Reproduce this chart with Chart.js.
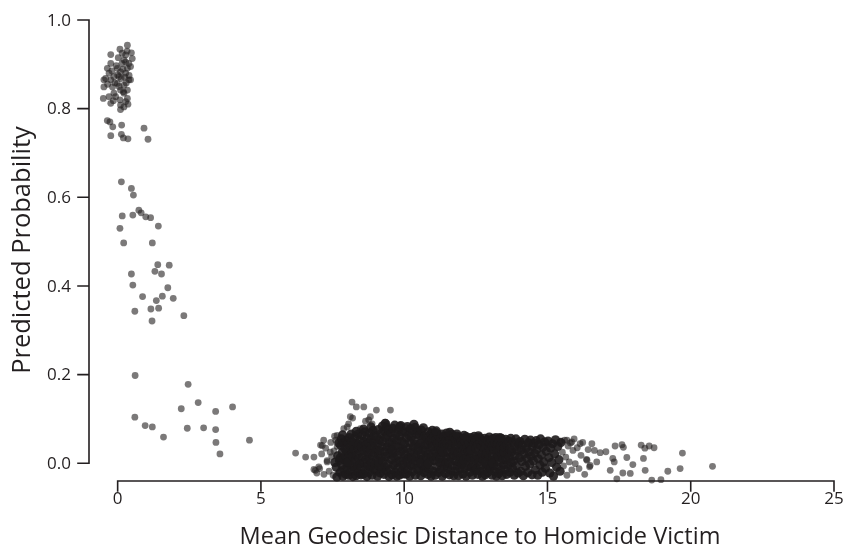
<!DOCTYPE html>
<html>
<head>
<meta charset="utf-8">
<script src="https://cdn.jsdelivr.net/npm/chart.js@4"></script>
<style>
  html, body { margin: 0; padding: 0; background: #fff; }
  canvas { display: block; }
</style>
</head>
<body>
<canvas id="scatter" width="846" height="551"></canvas>
<script>
// tick labels
const xTicks = [0, 5, 10, 15, 20, 25];
const yTicks = [0, 0.2, 0.4, 0.6, 0.8, 1.0];
const yTickLabels = ["0.0", "0.2", "0.4", "0.6", "0.8", "1.0"];
const xTitle = "Mean Geodesic Distance to Homicide Victim";
const yTitle = "Predicted Probability";

// points near zero distance, high probability
const nearVictim = [
  [0.34,0.943],[0.08,0.934],[-0.24,0.922],[0.16,0.925],[0.48,0.926],[0.28,0.921],[0.51,0.913],[0.22,0.91],
  [0.39,0.902],[-0.24,0.902],[-0.36,0.891],[-0.01,0.891],[0.34,0.891],[-0.3,0.88],[-0.13,0.872],[0.1,0.883],
  [0.28,0.88],[-0.42,0.868],[0.05,0.872],[0.39,0.865],[0.45,0.865],[-0.48,0.865],[-0.24,0.865],[-0.01,0.857],
  [0.22,0.853],[-0.48,0.849],[-0.18,0.849],[0.1,0.842],[0.34,0.842],[-0.13,0.835],[0.22,0.835],[-0.3,0.827],
  [-0.5,0.823],[-0.07,0.827],[0.34,0.823],[-0.24,0.812],[0.1,0.808],[0.28,0.816],[0.1,0.798],[0.22,0.804],
  [0.0,0.876],[0.12,0.868],[0.25,0.871],[-0.1,0.858],[0.05,0.85],[0.3,0.858],[0.18,0.889],[-0.05,0.897],
  [0.4,0.875],[0.15,0.902],[0.02,0.915],[-0.2,0.885],[0.28,0.905],[0.33,0.93],[0.2,0.838],[-0.15,0.818],
  [0.36,0.81],[0.08,0.82],[-0.35,0.855],[0.45,0.895],
  [-0.36,0.773],[-0.27,0.77],[-0.17,0.759],[0.14,0.763],[0.92,0.756],[-0.24,0.739],[0.13,0.742],[0.2,0.734],
  [0.36,0.732],[1.06,0.731]
];

// scattered points at short distances
const shortRange = [
  [0.13,0.635],[0.48,0.62],[0.55,0.605],[0.74,0.571],[0.82,0.565],[0.16,0.558],[0.53,0.56],[0.98,0.556],
  [1.15,0.554],[1.42,0.535],[0.08,0.53],[0.21,0.497],[1.21,0.497],[1.4,0.448],[1.8,0.447],[0.48,0.427],
  [1.3,0.433],[1.53,0.427],[0.53,0.402],[1.75,0.396],[0.87,0.376],[1.56,0.377],[1.35,0.367],[1.94,0.372],
  [0.6,0.343],[1.16,0.348],[1.43,0.35],[1.2,0.321],[2.31,0.333],[0.61,0.198],[2.46,0.178],[2.81,0.137],
  [2.22,0.123],[4.01,0.127],[3.42,0.117],[0.6,0.104],[0.96,0.085],[1.21,0.082],[2.43,0.079],[3.0,0.08],
  [3.42,0.076],[1.6,0.059],[3.43,0.047],[4.6,0.052],[3.57,0.021]
];

// loose points around the main cluster
const clusterEdge = [
  [6.21,0.023],[6.56,0.014],[6.85,0.014],[6.85,-0.014],[6.95,-0.022],[8.18,0.138],[8.33,0.127],[8.59,0.127],
  [9.03,0.12],[9.52,0.12],[8.12,0.105],[8.82,0.105],[8.2,0.102],[8.76,0.098],[8.65,0.095],[8.88,0.089],
  [8.06,0.089],[7.89,0.078],[8.01,0.082],[8.47,0.078],[9.34,0.093],[9.4,0.089],[9.87,0.086],[10.04,0.082],
  [10.62,0.067],[11.15,0.063],[7.66,0.063],[7.19,0.052],[7.14,0.04],[7.08,0.041],[7.02,-0.008],[6.9,-0.016],
  [7.31,0.003],[7.42,0.025],[11.84,0.053],[12.77,0.05],[13.46,0.048],[13.94,0.044],[14.4,0.048],[14.98,0.044],
  [15.45,0.048],[15.68,0.052],[15.85,0.048],[16.14,0.044],
  [7.05,-0.012],[7.12,0.021],[7.2,-0.025],[7.26,0.034],[7.31,0.006],[7.38,-0.018],[7.44,0.047],[7.47,0.015],
  [7.52,-0.027],[7.55,0.028],[7.61,0.052],[7.66,0.038],[7.7,-0.022],[7.57,0.061],
  [15.52,0.025],[15.56,-0.006],[15.6,0.052],[15.64,0.014],[15.68,-0.027],[15.72,0.039],[15.76,0.003],[15.8,0.046],
  [15.85,-0.015],[15.89,0.029],[15.93,0.055],[15.97,-0.001],
  [16.04,0.035],[16.1,-0.012],[16.17,0.018],[16.23,0.047],[16.3,-0.025],[16.36,0.009],[16.42,0.031],[16.47,-0.008]
];

// dense cluster at mid distances
const clusterCore = [
  [7.58,0.002],[7.63,-0.009],[7.68,0.017],[7.72,0.046],[7.74,0.006],[7.65,-0.031],
  [7.76,0.012],[7.77,-0.02],[7.79,0.04],[7.81,0.055],[7.82,-0.004],[7.84,0.025],[7.86,-0.029],[7.88,0.047],
  [7.89,0.009],[7.91,-0.014],[7.93,0.033],[7.95,0.018],[7.96,-0.025],[7.98,0.052],[7.99,0.001],[7.85,0.064],
  [8.01,0.027],[8.02,-0.011],[8.04,0.044],[8.06,-0.027],[8.07,0.015],[8.09,0.058],[8.11,-0.003],[8.12,0.036],
  [8.14,-0.019],[8.16,0.05],[8.17,0.008],[8.19,0.024],[8.21,-0.03],[8.22,0.041],[8.24,-0.008],[8.15,0.066],
  [8.05,0.003],[8.2,0.016],
  [8.26,0.031],[8.27,-0.016],[8.29,0.06],[8.3,0.005],[8.32,-0.028],[8.34,0.045],[8.35,0.019],[8.37,-0.006],
  [8.39,0.066],[8.4,0.034],[8.42,-0.022],[8.43,0.011],[8.45,0.052],[8.46,-0.001],[8.48,0.026],[8.49,-0.026],
  [8.33,0.072],[8.41,0.041],
  [8.51,0.038],[8.52,-0.009],[8.54,0.063],[8.55,0.014],[8.57,-0.024],[8.59,0.049],[8.6,0.002],[8.62,0.028],
  [8.63,0.071],[8.65,-0.015],[8.67,0.042],[8.68,0.009],[8.7,-0.03],[8.71,0.057],[8.73,0.021],[8.74,-0.005],
  [8.58,0.077],[8.69,0.033],
  [8.76,0.046],[8.77,-0.021],[8.79,0.012],[8.8,0.068],[8.82,0.03],[8.83,-0.008],[8.85,0.055],[8.86,0.002],
  [8.88,-0.027],[8.89,0.039],[8.91,0.074],[8.92,0.017],[8.94,-0.013],[8.95,0.048],[8.97,0.024],[8.98,-0.002],
  [8.84,0.082],[8.96,0.063],
  [9.01,0.031],[9.02,-0.017],[9.04,0.06],[9.05,0.007],[9.07,-0.029],[9.08,0.043],[9.1,0.076],[9.11,0.019],
  [9.13,-0.006],[9.14,0.053],[9.16,0.028],[9.17,-0.022],[9.19,0.067],[9.2,0.011],[9.22,0.038],[9.23,-0.011],
  [9.24,0.084],[9.12,0.002],
  [9.26,0.049],[9.27,0.004],[9.29,-0.025],[9.3,0.072],[9.32,0.026],[9.33,-0.008],[9.35,0.058],[9.36,0.015],
  [9.38,0.081],[9.39,-0.018],[9.41,0.037],[9.42,0.064],[9.44,-0.002],[9.45,0.021],[9.47,-0.03],[9.48,0.046],
  [9.34,0.09],[9.46,0.075],
  [9.51,0.033],[9.52,-0.014],[9.54,0.068],[9.55,0.009],[9.57,0.047],[9.58,-0.026],[9.6,0.079],[9.61,0.023],
  [9.63,-0.004],[9.64,0.056],[9.66,0.013],[9.67,0.086],[9.69,-0.02],[9.7,0.04],[9.72,0.066],[9.73,0.001],
  [9.59,0.03],[9.74,-0.029],
  [9.76,0.052],[9.77,0.018],[9.79,-0.011],[9.8,0.075],[9.82,0.036],[9.83,-0.027],[9.85,0.061],[9.86,0.005],
  [9.88,0.085],[9.89,0.027],[9.91,-0.017],[9.92,0.049],[9.94,0.07],[9.95,-0.003],[9.97,0.031],[9.98,0.012],
  [9.84,0.082],[9.99,-0.024],
  [10.01,0.044],[10.02,-0.008],[10.04,0.071],[10.05,0.02],[10.07,-0.024],[10.08,0.057],[10.1,0.008],[10.11,0.083],
  [10.13,0.034],[10.14,-0.015],[10.16,0.064],[10.17,0.014],[10.19,-0.029],[10.2,0.047],[10.22,0.078],[10.23,0.026],
  [10.12,0.002],[10.24,-0.005],
  [10.26,0.059],[10.27,0.011],[10.29,-0.019],[10.3,0.074],[10.32,0.037],[10.33,-0.002],[10.35,0.051],[10.36,0.022],
  [10.38,0.081],[10.39,-0.027],[10.41,0.042],[10.42,0.004],[10.44,0.066],[10.45,-0.012],[10.47,0.029],[10.48,0.073],
  [10.34,0.088],[10.43,0.016],
  [10.51,0.036],[10.52,-0.016],[10.54,0.063],[10.55,0.008],[10.57,0.045],[10.58,-0.028],[10.6,0.075],[10.61,0.019],
  [10.63,-0.005],[10.64,0.054],[10.66,0.03],[10.67,0.08],[10.69,-0.021],[10.7,0.012],[10.72,0.061],[10.73,0.041],
  [10.59,0.001],[10.74,-0.01],
  [10.76,0.027],[10.77,-0.006],[10.79,0.058],[10.8,0.013],[10.82,-0.025],[10.83,0.043],[10.85,0.071],[10.86,0.021],
  [10.88,-0.013],[10.89,0.05],[10.91,0.004],[10.92,0.066],[10.94,-0.029],[10.95,0.035],[10.97,0.015],[10.98,0.074],
  [10.84,-0.001],[10.96,0.055],
  [11.01,0.038],[11.02,-0.018],[11.04,0.061],[11.05,0.006],[11.07,0.027],[11.08,-0.027],[11.1,0.052],[11.11,0.069],
  [11.13,0.015],[11.14,-0.008],[11.16,0.044],[11.17,0.023],[11.19,0.064],[11.2,-0.021],[11.22,0.033],[11.23,0.002],
  [11.12,0.073],[11.24,0.048],
  [11.26,0.011],[11.27,0.057],[11.29,-0.014],[11.3,0.031],[11.32,0.066],[11.33,-0.029],[11.35,0.042],[11.36,0.004],
  [11.38,0.022],[11.39,0.06],[11.41,-0.007],[11.42,0.037],[11.44,-0.023],[11.45,0.049],[11.47,0.013],[11.48,0.068],
  [11.34,0.026],[11.46,-0.001],
  [11.51,0.045],[11.52,-0.011],[11.54,0.025],[11.55,0.062],[11.57,0.003],[11.58,-0.026],[11.6,0.038],[11.61,0.054],
  [11.63,0.014],[11.64,-0.017],[11.66,0.031],[11.67,0.065],[11.69,-0.004],[11.7,0.047],[11.72,0.019],[11.73,-0.028],
  [11.59,0.07],[11.74,0.058],
  [11.76,0.028],[11.77,0.006],[11.79,0.053],[11.8,-0.019],[11.82,0.039],[11.83,0.016],[11.85,-0.006],[11.86,0.061],
  [11.88,0.024],[11.89,-0.028],[11.91,0.046],[11.92,0.002],[11.94,0.058],[11.95,-0.013],[11.97,0.033],[11.98,0.011],
  [11.84,0.066],[11.99,0.05],
  [12.01,-0.003],[12.02,0.041],[12.04,0.019],[12.05,-0.024],[12.07,0.056],[12.08,0.007],[12.1,0.032],[12.11,-0.012],
  [12.13,0.049],[12.14,0.023],[12.16,-0.029],[12.17,0.06],[12.19,0.013],[12.2,0.036],[12.22,-0.007],[12.23,0.052],
  [12.09,0.063],[12.24,0.027],
  [12.26,0.004],[12.27,0.045],[12.29,-0.02],[12.3,0.028],[12.32,0.058],[12.33,0.012],[12.35,-0.009],[12.36,0.038],
  [12.38,-0.027],[12.39,0.053],[12.41,0.02],[12.42,-0.002],[12.44,0.043],[12.45,0.061],[12.47,0.009],[12.48,-0.016],
  [12.34,0.03],[12.49,0.05],
  [12.51,0.034],[12.52,-0.011],[12.54,0.055],[12.55,0.016],[12.57,-0.025],[12.58,0.042],[12.6,0.003],[12.61,0.026],
  [12.63,0.058],[12.64,-0.018],[12.66,0.047],[12.67,0.011],[12.69,-0.004],[12.7,0.037],[12.72,0.021],[12.73,-0.029],
  [12.59,0.062],[12.74,0.051],
  [12.76,0.007],[12.77,0.049],[12.79,-0.015],[12.8,0.03],[12.82,0.056],[12.83,-0.026],[12.85,0.018],[12.86,0.041],
  [12.88,-0.005],[12.89,0.024],[12.91,0.053],[12.92,-0.021],[12.94,0.01],[12.95,0.036],[12.97,0.059],[12.98,-0.009],
  [12.84,0.002],[12.99,0.045],
  [13.01,0.029],[13.02,-0.012],[13.04,0.052],[13.05,0.006],[13.07,-0.027],[13.08,0.038],[13.1,0.017],[13.11,0.056],
  [13.13,-0.004],[13.14,0.031],[13.16,-0.019],[13.17,0.046],[13.19,0.011],[13.2,0.058],[13.22,-0.029],[13.23,0.023],
  [13.09,0.001],[13.24,0.04],
  [13.26,-0.008],[13.27,0.044],[13.29,0.015],[13.3,-0.023],[13.32,0.053],[13.33,0.027],[13.35,0.003],[13.36,0.039],
  [13.38,-0.016],[13.39,0.056],[13.41,0.02],[13.42,-0.028],[13.44,0.047],[13.45,0.008],[13.47,0.032],[13.48,-0.003],
  [13.34,0.058],[13.49,0.025],
  [13.51,0.036],[13.52,-0.014],[13.54,0.054],[13.56,0.009],[13.58,-0.025],[13.59,0.042],[13.61,0.021],[13.63,-0.004],
  [13.65,0.05],[13.67,0.014],[13.69,-0.02],[13.7,0.031],[13.72,0.056],[13.74,0.001],
  [13.76,0.026],[13.78,-0.011],[13.8,0.047],[13.82,0.005],[13.84,-0.027],[13.86,0.037],[13.88,0.017],[13.9,0.055],
  [13.92,-0.006],[13.95,0.029],[13.97,-0.022],[13.99,0.044],
  [14.02,0.012],[14.04,0.049],[14.07,-0.018],[14.09,0.03],[14.11,0.004],[14.14,0.041],[14.16,-0.028],[14.18,0.021],
  [14.21,0.054],[14.23,-0.007],[14.26,0.034],[14.28,0.011],[14.31,-0.021],[14.33,0.046],[14.36,0.026],[14.38,-0.002],
  [14.41,0.052],[14.43,0.016],[14.46,-0.026],[14.48,0.038],
  [14.51,0.005],[14.53,0.045],[14.56,0.022],[14.58,-0.015],[14.61,0.051],[14.63,0.031],[14.66,-0.027],[14.68,0.01],
  [14.71,0.042],[14.74,-0.004],[14.76,0.055],[14.79,0.019],[14.82,-0.02],[14.84,0.036],[14.87,0.003],[14.9,0.048],
  [14.93,-0.011],[14.96,0.027],
  [15.02,0.05],[15.05,0.013],[15.08,-0.022],[15.11,0.034],[15.15,0.002],[15.18,0.044],[15.21,-0.029],[15.25,0.021],
  [15.28,0.053],[15.32,-0.009],[15.36,0.038],[15.4,0.008],[15.44,-0.018],[15.47,0.047]
];

// sparse long-distance tail
const farTail = [
  [16.55,0.044],[17.36,0.039],[17.6,0.042],[18.27,0.041],[18.55,0.039],[18.72,0.035],[19.71,0.023],[20.76,-0.007],
  [16.64,0.029],[16.84,0.024],[17.04,0.026],[17.28,0.011],[17.33,0.003],[17.77,0.013],[17.98,-0.003],[18.35,0.011],
  [18.41,-0.016],[19.2,-0.018],[19.63,-0.012],[18.96,-0.037],[17.89,-0.023],[17.63,-0.022],[17.19,-0.016],[16.72,0.003],
  [16.49,-0.005],[16.38,0.007],[17.42,-0.035],[18.64,-0.038],[17.65,0.036],[18.4,0.034]
];

const ink = "#231f20";
const fontFamily = "'Open Sans', 'Noto Sans', sans-serif";

const toXY = arr => arr.map(p => ({ x: p[0], y: p[1] }));
const loosePoints = toXY([].concat(nearVictim, shortRange, clusterEdge, farTail));
const densePoints = toXY(clusterCore);

const axesPlugin = {
  id: "detachedAxes",
  afterDatasetsDraw(chart) {
    const ctx = chart.ctx;
    const xs = chart.scales.x;
    const ys = chart.scales.y;
    const left = chart.chartArea.left;
    const bottom = chart.chartArea.bottom;
    ctx.save();
    ctx.strokeStyle = ink;
    ctx.fillStyle = ink;
    ctx.lineWidth = 1.6;
    ctx.lineCap = "square";

    // y axis
    ctx.beginPath();
    ctx.moveTo(left, ys.getPixelForValue(yTicks[0]));
    ctx.lineTo(left, ys.getPixelForValue(yTicks[yTicks.length - 1]));
    yTicks.forEach(v => {
      const py = ys.getPixelForValue(v);
      ctx.moveTo(left - 11, py);
      ctx.lineTo(left, py);
    });
    // x axis
    ctx.moveTo(xs.getPixelForValue(xTicks[0]), bottom);
    ctx.lineTo(xs.getPixelForValue(xTicks[xTicks.length - 1]), bottom);
    xTicks.forEach(v => {
      const px = xs.getPixelForValue(v);
      ctx.moveTo(px, bottom);
      ctx.lineTo(px, bottom + 10);
    });
    ctx.stroke();

    ctx.font = "17px " + fontFamily;
    ctx.textAlign = "right";
    ctx.textBaseline = "middle";
    yTicks.forEach((v, i) => {
      ctx.fillText(yTickLabels[i], left - 18, ys.getPixelForValue(v) + 1);
    });
    ctx.textAlign = "center";
    xTicks.forEach(v => {
      ctx.fillText(String(v), xs.getPixelForValue(v), bottom + 18);
    });

    ctx.font = "23.5px " + fontFamily;
    ctx.fillText(xTitle, 480, 537);
    ctx.font = "25.5px " + fontFamily;
    ctx.translate(23, 250);
    ctx.rotate(-Math.PI / 2);
    ctx.fillText(yTitle, 0, 0);
    ctx.restore();
  }
};

new Chart(document.getElementById("scatter"), {
  type: "scatter",
  data: {
    datasets: [{
      data: densePoints,
      backgroundColor: "rgba(30,27,28,0.9)",
      borderWidth: 0,
      pointRadius: 4.6,
      clip: false
    }, {
      data: loosePoints,
      backgroundColor: "rgba(35,31,32,0.6)",
      borderWidth: 0,
      pointRadius: 3.4,
      clip: false
    }]
  },
  options: {
    responsive: false,
    devicePixelRatio: 1,
    animation: false,
    layout: { padding: { left: 89, right: 12, top: 20, bottom: 70 } },
    plugins: { legend: { display: false }, tooltip: { enabled: false } },
    scales: {
      x: { type: "linear", min: -1, max: 25, display: false },
      y: { type: "linear", min: -0.04, max: 1.0, display: false }
    }
  },
  plugins: [axesPlugin]
});
</script>
</body>
</html>
